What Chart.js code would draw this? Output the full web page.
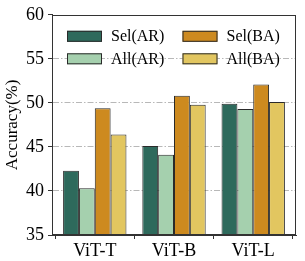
<!DOCTYPE html>
<html>
<head>
<meta charset="utf-8">
<script src="https://cdn.jsdelivr.net/npm/chart.js@4/dist/chart.umd.min.js"></script>
<style>
html,body{margin:0;padding:0;background:#fff;}
#wrap{width:305px;height:261px;}
</style>
</head>
<body>
<div id="wrap"><canvas id="c" width="305" height="261"></canvas></div>
<script>
const categories = ['ViT-T', 'ViT-B', 'ViT-L'];
const seriesNames = ['Sel(AR)', 'All(AR)', 'Sel(BA)', 'All(BA)'];
const selAR = [42.3, 45.1, 49.9];
const allAR = [40.3, 44.1, 49.3];
const selBA = [49.4, 50.8, 52.1];
const allBA = [46.4, 49.8, 50.1];
const yTicks = [35, 40, 45, 50, 55, 60];

const colors = ['#2e6a5c', '#a5d0ae', '#cd8a1f', '#e2c660'];
const seriesValues = [selAR, allAR, selBA, allBA];

const serif = "'Liberation Serif', 'Times New Roman', serif";
Chart.defaults.font.family = serif;
Chart.defaults.color = '#000';

const datasets = seriesNames.map((name, i) => ({
  label: name,
  data: seriesValues[i].map((v, j) => ({x: j, y: v})),
  backgroundColor: colors[i],
  borderColor: '#2a2a2a',
  borderWidth: 1,
  borderSkipped: false,
  categoryPercentage: 0.8,
  barPercentage: 1.0
}));

const frameAndLegend = {
  id: 'frameAndLegend',
  afterDatasetsDraw(chart) {
    const ctx = chart.ctx;
    const a = chart.chartArea;
    ctx.save();
    const cols = [a.left + 15, a.left + 130.5];
    const rows = [a.top + 16, a.top + 38.5];
    ctx.font = '16px ' + serif;
    ctx.textBaseline = 'middle';
    ctx.textAlign = 'left';
    chart.data.datasets.forEach((ds, i) => {
      const col = i < 2 ? 0 : 1;
      const row = i % 2;
      const x = cols[col], y = rows[row];
      ctx.fillStyle = ds.backgroundColor;
      ctx.fillRect(x, y, 35, 11);
      ctx.strokeStyle = '#2a2a2a';
      ctx.lineWidth = 1;
      ctx.strokeRect(x + 0.5, y + 0.5, 34, 10);
      ctx.fillStyle = '#000';
      ctx.fillText(ds.label, x + 44, y + 6);
    });
    ctx.strokeStyle = '#333';
    ctx.lineWidth = 1;
    ctx.strokeRect(Math.round(a.left) + 0.5, Math.round(a.top) + 0.5,
                   Math.round(a.right - a.left) - 1, Math.round(a.bottom - a.top) - 1);
    ctx.restore();
  }
};

new Chart(document.getElementById('c'), {
  type: 'bar',
  data: { datasets },
  options: {
    responsive: false,
    animation: false,
    layout: { padding: { top: 10, right: 9, left: 0, bottom: 0 } },
    plugins: { legend: { display: false }, tooltip: { enabled: false } },
    scales: {
      x: {
        type: 'linear',
        min: -0.54,
        max: 2.54,
        offset: false,
        afterFit: s => { s.height = 26; },
        afterBuildTicks: s => { s.ticks = categories.map((_, i) => ({ value: i })); },
        grid: { display: true, drawOnChartArea: false, drawTicks: true, tickLength: 4, color: '#333', tickColor: '#333' },
        border: { display: true, color: '#333' },
        ticks: {
          autoSkip: false,
          maxRotation: 0,
          padding: 1,
          font: { size: 18, family: serif },
          callback: v => categories[v] !== undefined ? categories[v] : ''
        }
      },
      y: {
        min: 35,
        max: 60,
        afterFit: s => { s.width = 52; },
        afterBuildTicks: s => { s.ticks = yTicks.map(v => ({ value: v })); },
        grid: {
          color: ctx => (ctx.tick && (ctx.tick.value === 35 || ctx.tick.value === 60)) ? 'rgba(0,0,0,0)' : '#b8b8b8',
          lineWidth: 1,
          drawTicks: true,
          tickLength: 4,
          tickColor: '#333',
          tickBorderDash: []
        },
        border: { display: true, color: '#333', dash: [6, 2, 1.5, 2] },
        ticks: {
          padding: 4,
          font: { size: 18, family: serif }
        },
        title: {
          display: true,
          text: 'Accuracy(%)',
          font: { size: 17, family: serif },
          padding: { top: 2, bottom: 0 }
        }
      }
    }
  },
  plugins: [frameAndLegend]
});
</script>
</body>
</html>
